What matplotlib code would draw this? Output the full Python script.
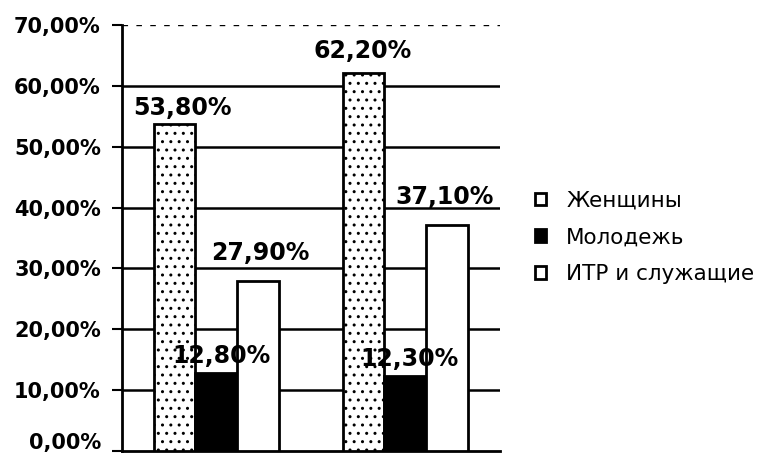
import numpy as np
import matplotlib
matplotlib.use("Agg")
from matplotlib import pyplot as plt
from matplotlib.ticker import FuncFormatter
from matplotlib.patches import Patch
from matplotlib.transforms import ScaledTranslation

# данные
groups = ["1", "2"]
series = ["Женщины", "Молодежь", "ИТР и служащие"]
zhenshchiny = [0.538, 0.622]
molodezh = [0.128, 0.123]
itr = [0.279, 0.371]

plt.rcParams['font.family'] = ['DejaVu Sans']

fig = plt.figure(figsize=(7.7, 4.54), dpi=100)
ax = fig.add_axes([0.158, 0.0066, 0.491, 0.938])

x = np.arange(len(groups))
w = 0.22
vals = [zhenshchiny, molodezh, itr]
faces = ['white', 'black', 'white']
hatches = ['..', None, None]
offs = [-w, 0, w]
for v, fc, h, o in zip(vals, faces, hatches, offs):
    ax.bar(x + o, v, width=w, color=fc, edgecolor='black', linewidth=2,
           hatch=h, zorder=3)

# подписи значений (смещения в пунктах)
lbl_off = [[(6, 3), (4, 4), (2, 12)],
           [(-1, 7), (3, 4), (-1.5, 12)]]
fmt = lambda v: ('%.2f%%' % (v * 100)).replace('.', ',')
for i in range(len(groups)):
    for v, o, (dx, dy) in zip(vals, offs, lbl_off[i]):
        ax.annotate(fmt(v[i]), (x[i] + o, v[i]), xytext=(dx, dy),
                    textcoords='offset points', ha='center', va='bottom',
                    fontsize=17, fontweight='bold', zorder=5)

ax.set_xlim(-0.5, 1.5)
ax.set_ylim(0, 0.7)
ax.set_yticks(np.arange(0, 0.71, 0.1))
ax.yaxis.set_major_formatter(FuncFormatter(lambda v, p: fmt(v)))
ax.set_xticks([])
ax.tick_params(axis='y', length=7, width=1.5, labelsize=15, pad=8)
for t in ax.get_yticklabels():
    t.set_fontweight('bold')
# нижнюю подпись чуть поднять, чтобы не обрезалась
lab0 = ax.get_yticklabels()[0]
lab0.set_transform(lab0.get_transform() + ScaledTranslation(0, 10 / 100, fig.dpi_scale_trans))

for yv in np.arange(0.1, 0.61, 0.1):
    ax.axhline(yv, color='black', linewidth=1.8, zorder=1)
ax.axhline(0.7, color='black', linewidth=1, linestyle=(0, (4, 6)), zorder=1)

for s in ['top', 'right']:
    ax.spines[s].set_visible(False)
ax.spines['left'].set_linewidth(2)
ax.spines['bottom'].set_linewidth(2)

handles = [Patch(facecolor='white', edgecolor='black', linewidth=2),
           Patch(facecolor='black', edgecolor='black', linewidth=2),
           Patch(facecolor='white', edgecolor='black', linewidth=2)]
fig.legend(handles, series, loc='upper left', bbox_to_anchor=(0.669, 0.623),
           frameon=False, fontsize=15.5, handlelength=0.53, handleheight=0.53,
           handletextpad=0.95, labelspacing=0.78)

fig.savefig('out.png', dpi=100)
